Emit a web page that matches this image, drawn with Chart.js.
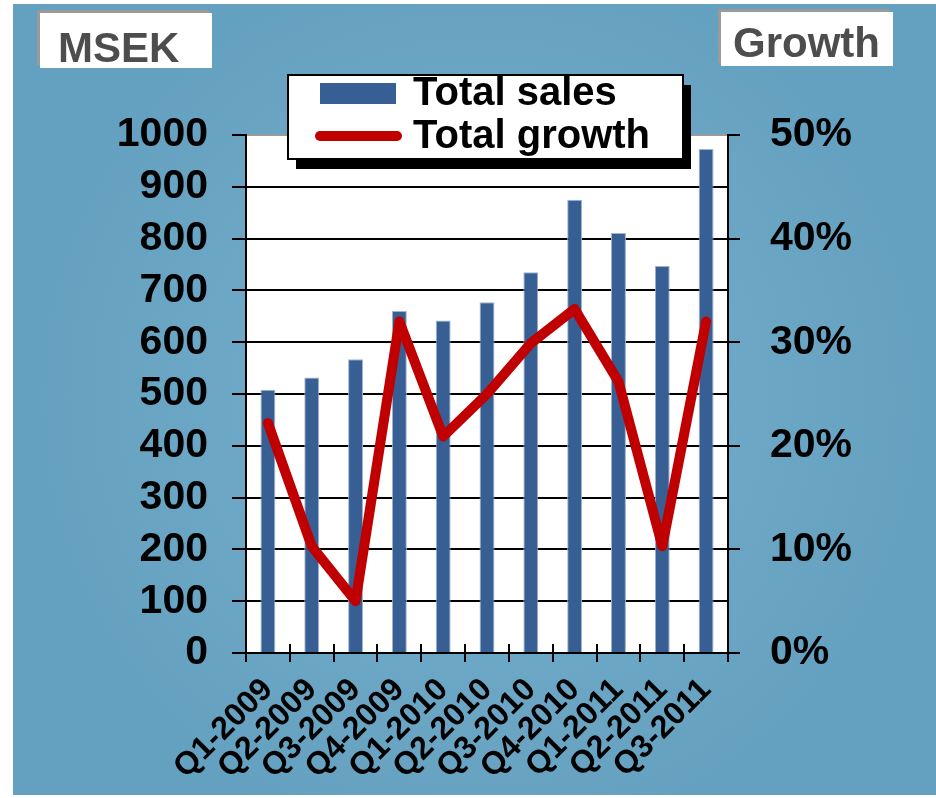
<!DOCTYPE html>
<html><head><meta charset="utf-8">
<script src="https://cdn.jsdelivr.net/npm/chart.js@4"></script>
<style>html,body{margin:0;padding:0;background:#fff;} canvas{display:block;}</style>
</head><body>
<canvas id="c" width="936" height="798"></canvas>
<script>
const categories = ['Q1-2009','Q2-2009','Q3-2009','Q4-2009','Q1-2010','Q2-2010','Q3-2010','Q4-2010','Q1-2011','Q2-2011','Q3-2011'];
const totalSales = [508, 532, 567, 660, 642, 677, 735, 875, 811, 747, 973];
const totalGrowth = [22.2, 10.3, 5.0, 32.0, 20.9, 25.0, 29.9, 33.2, 26.2, 10.3, 32.0];
const salesTicks = [0,100,200,300,400,500,600,700,800,900,1000];
const growthTicks = [0,10,20,30,40,50];
const seriesNames = ['Total sales', 'Total growth'];
const leftTitle = 'MSEK';
const rightTitle = 'Growth';

const FONT = '"Liberation Sans", Arial, sans-serif';
const BAR_COLOR = '#375f93';
const LINE_COLOR = '#c00000';

const bgPlugin = {
  id: 'bg',
  beforeDraw(chart) {
    const ctx = chart.ctx, W = chart.width, H = chart.height, a = chart.chartArea;
    ctx.save();
    ctx.fillStyle = '#ffffff';
    ctx.fillRect(0, 0, W, H);
    const g = ctx.createRadialGradient(480, 400, 30, 480, 400, 460);
    g.addColorStop(0, '#78afcf');
    g.addColorStop(1, '#64a0bf');
    ctx.fillStyle = g;
    ctx.fillRect(13, 4, W - 13, 791);
    ctx.fillStyle = '#ffffff';
    ctx.fillRect(a.left, a.top, a.right - a.left, a.bottom - a.top);
    ctx.restore();
  },
  afterDatasetsDraw(chart) {
    const ctx = chart.ctx, x = chart.scales.x, a = chart.chartArea;
    const n = categories.length;
    const half = (x.getPixelForValue(1) - x.getPixelForValue(0)) / 2;
    ctx.save();
    ctx.strokeStyle = '#000';
    ctx.lineWidth = 2;
    ctx.beginPath();
    for (let i = 0; i <= n; i++) {
      const px = Math.round(x.getPixelForValue(Math.min(i, n - 1)) + (i < n ? -half : half));
      ctx.moveTo(px, a.bottom - 9);
      ctx.lineTo(px, a.bottom);
    }
    ctx.stroke();
    ctx.restore();
  },
  afterDraw(chart) {
    const ctx = chart.ctx;
    ctx.save();
    const drawTitle = (text, bx, by, bw, bh, tx, ty) => {
      ctx.fillStyle = '#9a9a9a';
      ctx.fillRect(bx - 3, by - 3, bw, bh);
      ctx.fillStyle = '#ffffff';
      ctx.fillRect(bx, by, bw, bh);
      ctx.fillStyle = '#4d4d4d';
      ctx.font = 'bold 42px ' + FONT;
      ctx.textAlign = 'left';
      ctx.textBaseline = 'alphabetic';
      ctx.fillText(text, tx, ty);
    };
    drawTitle(leftTitle, 40, 13, 172, 55, 58, 62);
    drawTitle(rightTitle, 721, 12, 172, 54, 733, 57);

    const lx = 288, ly = 75, lw = 395, lh = 84;
    ctx.fillStyle = '#000';
    ctx.fillRect(lx + 8, ly + 10, lw, lh);
    ctx.fillStyle = '#fff';
    ctx.fillRect(lx, ly, lw, lh);
    ctx.strokeStyle = '#000';
    ctx.lineWidth = 2;
    ctx.strokeRect(lx, ly, lw, lh);
    const ds = chart.data.datasets;
    ctx.fillStyle = ds[0].backgroundColor;
    ctx.fillRect(320, 83, 76, 21);
    ctx.strokeStyle = ds[1].borderColor;
    ctx.lineWidth = 10;
    ctx.lineCap = 'round';
    ctx.beginPath();
    ctx.moveTo(320, 136);
    ctx.lineTo(397, 136);
    ctx.stroke();
    ctx.fillStyle = '#000';
    ctx.font = 'bold 40px ' + FONT;
    ctx.textAlign = 'left';
    ctx.textBaseline = 'alphabetic';
    ctx.fillText(ds[0].label, 413, 105);
    ctx.fillText(ds[1].label, 413, 148);
    ctx.restore();
  }
};

new Chart(document.getElementById('c'), {
  data: {
    labels: categories,
    datasets: [
      {
        type: 'bar', label: seriesNames[0], data: totalSales,
        backgroundColor: BAR_COLOR, borderColor: '#9fb4cf', borderWidth: 1,
        yAxisID: 'y', order: 2, barPercentage: 0.34, categoryPercentage: 1
      },
      {
        type: 'line', label: seriesNames[1], data: totalGrowth,
        borderColor: LINE_COLOR, borderWidth: 10, pointRadius: 0, pointHoverRadius: 0,
        borderCapStyle: 'round', borderJoinStyle: 'round', tension: 0,
        yAxisID: 'y1', order: 1
      }
    ]
  },
  options: {
    responsive: false,
    animation: false,
    devicePixelRatio: 1,
    layout: { padding: { top: 135, left: 0, right: 0, bottom: 0 } },
    plugins: { legend: { display: false }, tooltip: { enabled: false } },
    scales: {
      x: {
        type: 'category', offset: true,
        grid: { offset: true, drawOnChartArea: false, drawTicks: true, tickLength: 9, color: '#000', lineWidth: 2 },
        border: { display: true, color: '#000', width: 2 },
        ticks: { autoSkip: false, maxRotation: 45, minRotation: 45, padding: 9, color: '#000',
                 font: { family: FONT, size: 32, weight: 'bold' } },
        afterFit(s) { s.height = 145; }
      },
      y: {
        type: 'linear', position: 'left', min: salesTicks[0], max: salesTicks[salesTicks.length - 1],
        afterBuildTicks(s) { s.ticks = salesTicks.map(v => ({ value: v })); },
        grid: { color: c => (c.tick && c.tick.value === 1000) ? '#9a9a9a' : '#000', tickColor: '#000', lineWidth: 2, tickLength: 14 },
        border: { display: true, color: '#000', width: 2 },
        ticks: { autoSkip: false, padding: 24, color: '#000', callback: v => String(v), font: { family: FONT, size: 41, weight: 'bold' } },
        afterFit(s) { s.width = 246; }
      },
      y1: {
        type: 'linear', position: 'right', min: growthTicks[0], max: growthTicks[growthTicks.length - 1],
        afterBuildTicks(s) { s.ticks = growthTicks.map(v => ({ value: v })); },
        grid: { drawOnChartArea: false, color: '#000', lineWidth: 2, tickLength: 12 },
        border: { display: true, color: '#000', width: 2 },
        ticks: { autoSkip: false, padding: 30, color: '#000', callback: v => v + '%', font: { family: FONT, size: 41, weight: 'bold' } },
        afterFit(s) { s.width = 208; }
      }
    }
  },
  plugins: [bgPlugin]
});
</script>
</body></html>
